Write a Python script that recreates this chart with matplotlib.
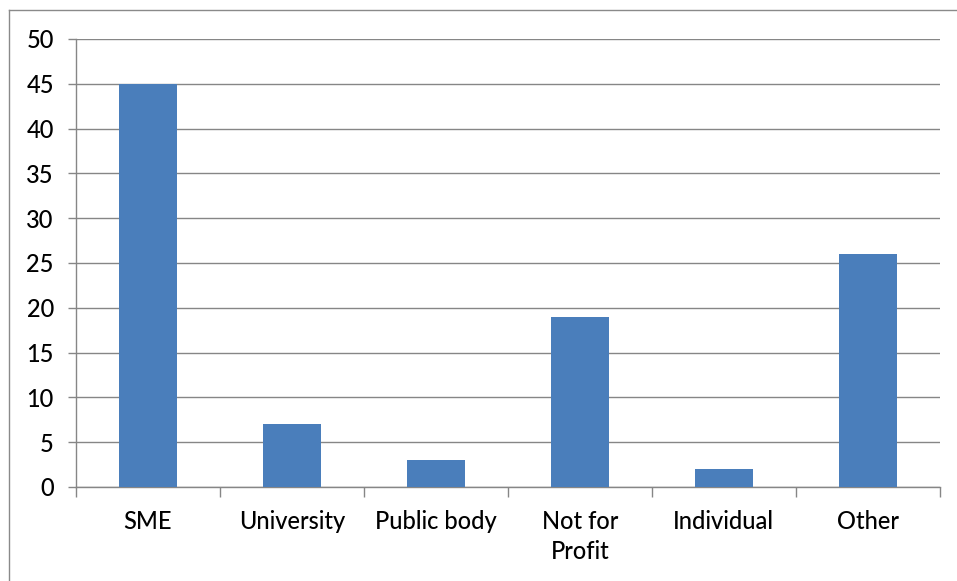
import matplotlib
matplotlib.use('Agg')
import matplotlib.pyplot as plt
from matplotlib.lines import Line2D
import numpy as np

categories = ['SME', 'University', 'Public body', 'Not for\nProfit', 'Individual', 'Other']
counts = [45, 7, 3, 19, 2, 26]

plt.rcParams['font.family'] = ['Lato', 'DejaVu Sans']

fig = plt.figure(figsize=(9.57, 5.81), dpi=100)
ax = fig.add_axes([0.0794, 0.1618, 0.9026, 0.7711])

grey = '#868686'
x = np.arange(len(categories))
ax.bar(x, counts, width=0.4, color='#4a7ebb', zorder=3)

ax.set_xlim(-0.5, len(categories) - 0.5)
ax.set_ylim(0, 50)
ax.set_yticks(range(0, 51, 5))
ax.yaxis.grid(True, color=grey, linewidth=1.0, zorder=0)

ax.set_xticks(x)
ax.set_xticklabels(categories, fontsize=17, fontweight='medium', linespacing=1.35, va='top')
ax.set_xticks(np.arange(-0.5, len(categories)), minor=True)
ax.tick_params(axis='x', which='major', length=0, pad=16.5)
ax.tick_params(axis='x', which='minor', length=7, color=grey, width=1)
ax.tick_params(axis='y', length=6, color=grey, width=1, labelsize=17, pad=10)
for lbl in ax.get_yticklabels():
    lbl.set_fontweight('medium')

for s in ['top', 'right']:
    ax.spines[s].set_visible(False)
for s in ['left', 'bottom']:
    ax.spines[s].set_color(grey)
    ax.spines[s].set_linewidth(1)

# outer chart frame
fig.add_artist(Line2D([9/957, 9/957], [0, 1 - 10/581], transform=fig.transFigure, color='#8a8a8a', lw=1))
fig.add_artist(Line2D([9/957, 1], [1 - 10/581, 1 - 10/581], transform=fig.transFigure, color='#8a8a8a', lw=1))

fig.savefig('out.png', dpi=100)
